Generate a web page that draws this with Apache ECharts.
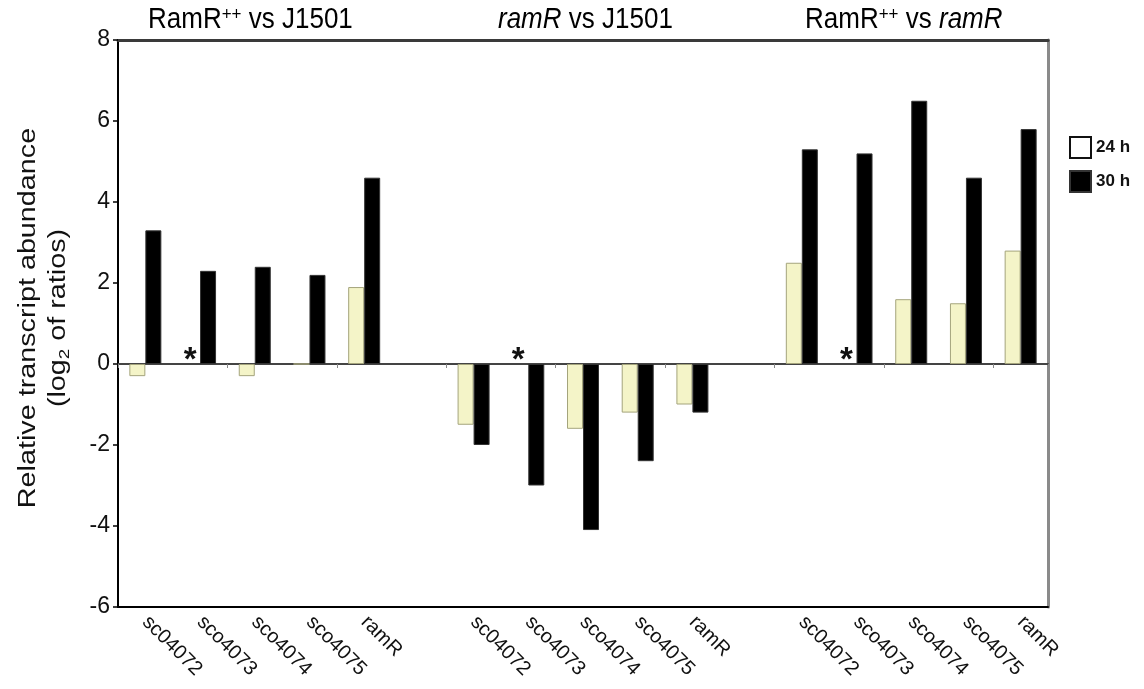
<!DOCTYPE html>
<html>
<head>
<meta charset="utf-8">
<script src="https://cdn.jsdelivr.net/npm/echarts@6/dist/echarts.min.js"></script>
<style>
html,body{margin:0;padding:0;background:#fff;}
#chart{width:1144px;height:689px;}
</style>
</head>
<body>
<div id="chart"></div>
<script>
// ---- data ----
var categories = ['sc04072','sco4073','sco4074','sco4075','ramR','',
                  'sc04072','sco4073','sco4074','sco4075','ramR','',
                  'sc04072','sco4073','sco4074','sco4075','ramR'];
var h24 = [-0.3, 0, -0.3, 0, 1.9, null,
           -1.5, 0, -1.6, -1.2, -1.0, null,
           2.5, 0, 1.6, 1.5, 2.8];
var h30 = [3.3, 2.3, 2.4, 2.2, 4.6, null,
           -2.0, -3.0, -4.1, -2.4, -1.2, null,
           5.3, 5.2, 6.5, 4.6, 5.8];
var marks = ['', '*', '', '', '', '',
             '', '*', '', '', '', '',
             '', '*', '', '', ''];
var yTicks = {min: -6, max: 8, interval: 2};
var seriesNames = ['24 h', '30 h'];

var FONT = 'Arial, "Liberation Sans", sans-serif';

var h24Data = h24.map(function (v, i) {
  if (marks[i]) {
    return {
      value: v,
      itemStyle: {color: 'rgba(0,0,0,0)', borderWidth: 0},
      label: {show: true, formatter: marks[i], position: 'top', distance: 0,
              offset: [-2, 13], fontSize: 33, fontWeight: 'bold', color: '#111', fontFamily: FONT}
    };
  }
  return v;
});

var chart = echarts.init(document.getElementById('chart'), null, {renderer: 'canvas'});
var option = {
  animation: false,
  backgroundColor: '#fff',
  textStyle: {fontFamily: FONT},
  grid: {left: 118, right: 96, top: 40, bottom: 82, containLabel: false},
  legend: {
    orient: 'vertical', left: 1064, top: 131,
    itemWidth: 21, itemHeight: 21, itemGap: 11, icon: 'rect',
    textStyle: {fontWeight: 'bold', fontSize: 17, color: '#111', fontFamily: FONT},
    data: [
      {name: seriesNames[0], itemStyle: {color: '#fff', borderColor: '#111', borderWidth: 2}},
      {name: seriesNames[1], itemStyle: {color: '#000'}}
    ]
  },
  xAxis: [
    {
      type: 'category', data: categories, position: 'bottom',
      axisLine: {onZero: false, lineStyle: {color: '#000', width: 2}},
      axisTick: {show: false},
      axisLabel: {interval: 0, rotate: -45, fontSize: 20, color: '#111', margin: 12, fontFamily: FONT}
    },
    {
      type: 'category', data: categories, position: 'top',
      axisLine: {onZero: false, lineStyle: {color: '#3a3a3a', width: 3}},
      axisTick: {show: false}, axisLabel: {show: false}
    },
    {
      type: 'category', data: categories, position: 'bottom',
      axisLine: {onZero: true, lineStyle: {color: '#444', width: 2}},
      axisTick: {show: true, length: 4, lineStyle: {color: '#888', width: 1}},
      axisLabel: {show: false}
    }
  ],
  yAxis: [
    {
      type: 'value', position: 'left', min: yTicks.min, max: yTicks.max, interval: yTicks.interval,
      axisLine: {show: true, lineStyle: {color: '#000', width: 2}},
      axisTick: {show: true, length: 5, lineStyle: {color: '#000', width: 1.5}},
      axisLabel: {fontSize: 23, color: '#111', margin: 8, fontFamily: FONT},
      splitLine: {show: false}
    },
    {
      type: 'value', position: 'right', min: yTicks.min, max: yTicks.max, interval: yTicks.interval,
      axisLine: {show: true, lineStyle: {color: '#8a8a8a', width: 3}},
      axisTick: {show: false}, axisLabel: {show: false}, splitLine: {show: false}
    }
  ],
  series: [
    {
      name: seriesNames[0], type: 'bar', xAxisIndex: 0, yAxisIndex: 0,
      data: h24Data, barWidth: 16, barGap: '0%',
      itemStyle: {color: '#f4f4c8', borderColor: '#a4a47c', borderWidth: 1}
    },
    {
      name: seriesNames[1], type: 'bar', xAxisIndex: 0, yAxisIndex: 0,
      data: h30, barWidth: 16, barGap: '0%',
      itemStyle: {color: '#000', borderColor: '#333', borderWidth: 1}
    }
  ],
  graphic: [
    {
      type: 'text', x: 148, y: 5, scaleY: 1.12,
      style: {
        text: '{n|RamR}{s|++}{n| vs J1501}',
        rich: {
          n: {fontSize: 26, fontFamily: FONT, fill: '#000'},
          s: {fontSize: 17, fontFamily: FONT, fill: '#000', verticalAlign: 'top', padding: [0, 0, 10, 0]}
        }
      }
    },
    {
      type: 'text', x: 498, y: 5, scaleY: 1.12,
      style: {
        text: '{i|ramR}{n| vs J1501}',
        rich: {
          n: {fontSize: 26, fontFamily: FONT, fill: '#000'},
          i: {fontSize: 26, fontFamily: FONT, fill: '#000', fontStyle: 'italic'}
        }
      }
    },
    {
      type: 'text', x: 805, y: 5, scaleY: 1.12,
      style: {
        text: '{n|RamR}{s|++}{n| vs }{i|ramR}',
        rich: {
          n: {fontSize: 26, fontFamily: FONT, fill: '#000'},
          i: {fontSize: 26, fontFamily: FONT, fill: '#000', fontStyle: 'italic'},
          s: {fontSize: 17, fontFamily: FONT, fill: '#000', verticalAlign: 'top', padding: [0, 0, 10, 0]}
        }
      }
    },
    {
      type: 'text', x: 29, y: 318, rotation: Math.PI / 2, scaleX: 1.25,
      style: {
        text: 'Relative transcript abundance', align: 'center', verticalAlign: 'middle',
        fontSize: 23, fontFamily: FONT, fill: '#111'
      }
    },
    {
      type: 'text', x: 59, y: 318, rotation: Math.PI / 2, scaleX: 1.25,
      style: {
        text: '{n|(log}{s|2}{n| of ratios)}', align: 'center', verticalAlign: 'middle',
        rich: {
          n: {fontSize: 23, fontFamily: FONT, fill: '#111'},
          s: {fontSize: 15, fontFamily: FONT, fill: '#111', verticalAlign: 'bottom', padding: [12, 0, 0, 0]}
        }
      }
    }
  ]
};
chart.setOption(option);
</script>
</body>
</html>
